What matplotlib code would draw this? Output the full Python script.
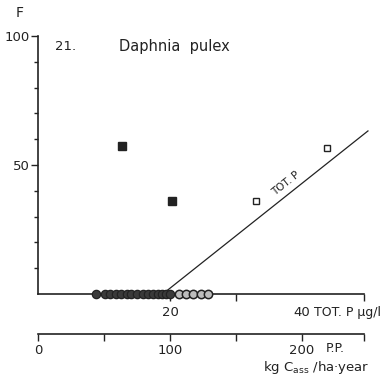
import matplotlib
matplotlib.use("Agg")
import matplotlib.pyplot as plt
from matplotlib.ticker import FixedLocator

# Daphnia pulex frequency (F) against total phosphorus / primary production
lakes_filled_x = [8.8, 10.2, 10.9, 11.8, 12.6, 13.5, 14.1, 15.0, 15.9, 16.7, 17.4, 18.2, 18.8, 19.4, 20.0]
lakes_open_x = [21.4, 22.4, 23.5, 24.7, 25.8]
sq_filled_x = [12.7, 20.3]
sq_filled_f = [57.4, 36.0]
sq_open_x = [33.0, 43.8]
sq_open_f = [36.0, 56.5]
fit_x = [18.9, 50.0]
fit_f = [0.0, 63.2]

TOTP_MAX = 49.4
PP_PER_TOTP = 5.0

plt.rcParams["font.family"] = "DejaVu Sans"
ink = "#222222"

fig = plt.figure(figsize=(3.88, 3.84), dpi=100)
ax = fig.add_axes([38 / 388, 1 - 294 / 384, (364 - 38) / 388, (294 - 36) / 384])

ax.plot(fit_x, fit_f, color=ink, lw=0.9, clip_on=False, zorder=2)
ax.plot(lakes_filled_x, [0] * len(lakes_filled_x), "o", ms=6, mfc="#3a3a3a", mec=ink,
        mew=0.9, clip_on=False, zorder=3)
ax.plot(lakes_open_x, [0] * len(lakes_open_x), "o", ms=6, mfc="#bdbdbd", mec=ink,
        mew=1.1, clip_on=False, zorder=3)
ax.plot(sq_filled_x, sq_filled_f, "s", ms=5.5, mfc=ink, mec=ink, clip_on=False)
ax.plot(sq_open_x, sq_open_f, "s", ms=4.5, mfc="white", mec=ink, mew=1.0, clip_on=False)

ax.text(37.6, 42.8, "TOT. P", rotation=38.5, ha="center", va="center", fontsize=7.5, color=ink)

ax.set_xlim(0, TOTP_MAX)
ax.set_ylim(0, 100)
for side in ("top", "right"):
    ax.spines[side].set_visible(False)
for side in ("left", "bottom"):
    ax.spines[side].set_linewidth(1.2)
    ax.spines[side].set_color(ink)

ax.set_yticks([50, 100])
ax.set_yticklabels(["50", "100"])
ax.yaxis.set_minor_locator(FixedLocator([10, 20, 30, 40, 60, 70, 80, 90]))
ax.tick_params(axis="y", which="major", length=5, width=1.0, pad=1, labelsize=9.5, colors=ink)
ax.tick_params(axis="y", which="minor", length=3, width=1.0, colors=ink)

ax.set_xticks([20, 30, TOTP_MAX])
ax.set_xticklabels(["20", "", ""])
ax.xaxis.set_minor_locator(FixedLocator([40]))
ax.xaxis.set_minor_formatter(lambda v, pos: "40")
ax.tick_params(axis="x", which="major", length=5, width=1.0, pad=4, labelsize=9.5, colors=ink)
ax.tick_params(axis="x", which="minor", length=0, pad=9, labelsize=9.5, colors=ink)

ax.text(41.8, -7.0, "TOT. P µg/l", ha="left", va="center", fontsize=9, color=ink,
        clip_on=False)

# second scale: primary production
sec = ax.secondary_xaxis(-40 / 258, functions=(lambda x: x * PP_PER_TOTP,
                                                lambda x: x / PP_PER_TOTP))
sec.spines["bottom"].set_linewidth(1.2)
sec.spines["bottom"].set_color(ink)
sec.set_xticks([0, 100, 200])
sec.set_xticklabels(["0", "100", "200"])
sec.xaxis.set_minor_locator(FixedLocator([50, 150, TOTP_MAX * PP_PER_TOTP]))
sec.tick_params(axis="x", which="major", length=5, width=1.0, pad=2, labelsize=9.5, colors=ink)
sec.tick_params(axis="x", which="minor", length=5, width=1.0, colors=ink)

ax.text(45.0, -21.0, "P.P.", ha="center", va="center", fontsize=9, color=ink, clip_on=False)
ax.text(42.2, -28.6, "kg C$_{\\mathregular{ass}}$ /ha·year", ha="center", va="center",
        fontsize=9.5, color=ink, clip_on=False)

fig.text(20 / 388, 1 - 13 / 384, "F", ha="center", va="center", fontsize=10, color=ink)
fig.text(55 / 388, 1 - 47 / 384, "21.", ha="left", va="center", fontsize=9.5, color=ink)
fig.text(119 / 388, 1 - 47 / 384, "Daphnia  pulex", ha="left", va="center", fontsize=10.5,
         color=ink)

fig.savefig("out.png", dpi=100)
